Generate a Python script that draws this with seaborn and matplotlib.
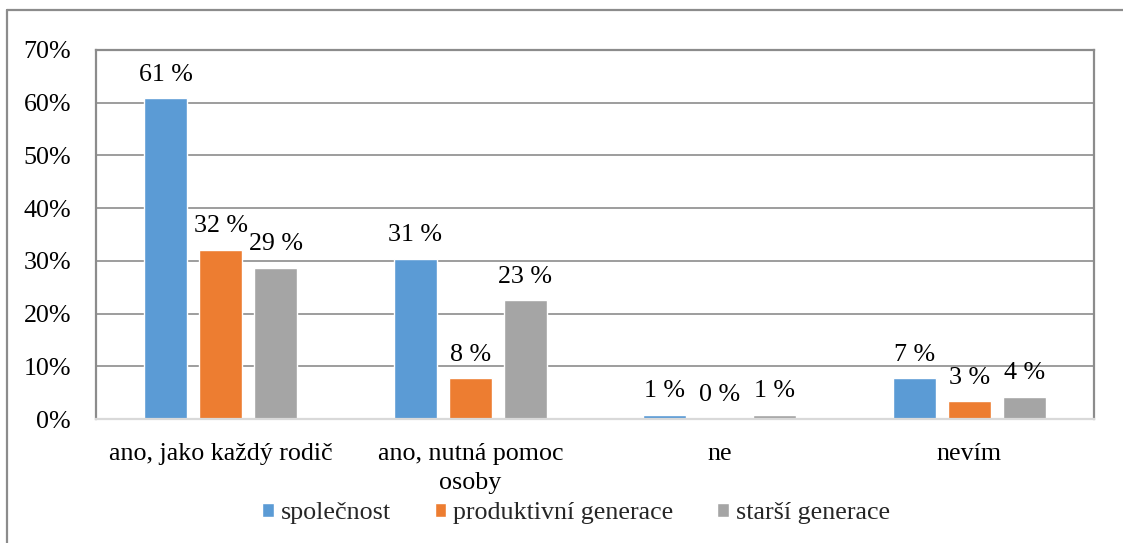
import matplotlib
matplotlib.use("Agg")
import matplotlib.pyplot as plt
from matplotlib.lines import Line2D
import seaborn as sns
import pandas as pd

categories = ["ano, jako každý rodič", "ano, nutná pomoc\nosoby", "ne", "nevím"]
series_names = ["společnost", "produktivní generace", "starší generace"]
spolecnost = [60.8, 30.4, 0.8, 7.7]
produktivni = [32.1, 7.8, 0.1, 3.4]
starsi = [28.7, 22.6, 0.8, 4.2]
label_spolecnost = ["61 %", "31 %", "1 %", "7 %"]
label_produktivni = ["32 %", "8 %", "0 %", "3 %"]
label_starsi = ["29 %", "23 %", "1 %", "4 %"]
yticks = [0, 10, 20, 30, 40, 50, 60, 70]
colors = ["#5B9BD5", "#ED7D31", "#A5A5A5"]

rows = []
for name, vals in zip(series_names, [spolecnost, produktivni, starsi]):
    for c, v in zip(categories, vals):
        rows.append({"kategorie": c, "hodnota": v, "skupina": name})
df = pd.DataFrame(rows)

sns.set_theme(style="white")
plt.rcParams["font.family"] = ["Liberation Serif", "DejaVu Serif"]

FS = 18.7
fig = plt.figure(figsize=(11.23, 5.43), dpi=100)
ax = fig.add_axes([96 / 1123, 1 - 419 / 543, (1094 - 96) / 1123, (419 - 50) / 543])

sns.barplot(data=df, x="kategorie", y="hodnota", hue="skupina",
            palette=colors, width=0.66, gap=0.22, ax=ax,
            saturation=1, errorbar=None, legend=True)

labels_all = [label_spolecnost, label_produktivni, label_starsi]
for cont, labs in zip(ax.containers, labels_all):
    for bar, lab in zip(cont, labs):
        ax.annotate(lab, (bar.get_x() + bar.get_width() / 2, bar.get_height()),
                    xytext=(0, 12.5), textcoords="offset points",
                    ha="center", va="baseline", fontsize=FS, color="#000000")

ax.set_ylim(0, 70)
ax.set_yticks(yticks)
ax.set_yticklabels([f"{t}%" for t in yticks], fontsize=FS)
ax.set_xlim(-0.5, 3.5)
ax.set_xlabel("")
ax.set_ylabel("")
ax.tick_params(axis="x", labelsize=FS, length=0, pad=17, colors="#000000")
ax.tick_params(axis="y", length=0, pad=18, colors="#000000")
for t in ax.get_xticklabels():
    t.set_linespacing(1.42)

ax.yaxis.grid(True, color="#8C8C8C", linewidth=1.2)
ax.set_axisbelow(True)
for side in ["left", "top", "right"]:
    ax.spines[side].set_color("#8C8C8C")
    ax.spines[side].set_linewidth(1.6)
    ax.spines[side].set_visible(True)
ax.spines["bottom"].set_color("#D9D9D9")
ax.spines["bottom"].set_linewidth(1.6)

handles, lbls = ax.get_legend_handles_labels()
ax.get_legend().remove()
fig.legend(handles, lbls, loc="center", bbox_to_anchor=(576 / 1123, 1 - 513 / 543),
           ncol=3, frameon=False, fontsize=FS, handlelength=0.45, handleheight=0.45,
           handletextpad=0.25, columnspacing=1.7, borderpad=0)

# outer frame (left and top edges)
fig.add_artist(Line2D([7 / 1123, 7 / 1123], [0, 1 - 10 / 543], color="#8C8C8C", linewidth=1.6,
                      transform=fig.transFigure))
fig.add_artist(Line2D([7 / 1123, 1], [1 - 10 / 543, 1 - 10 / 543], color="#8C8C8C", linewidth=1.6,
                      transform=fig.transFigure))

fig.savefig("out.png", dpi=100)
